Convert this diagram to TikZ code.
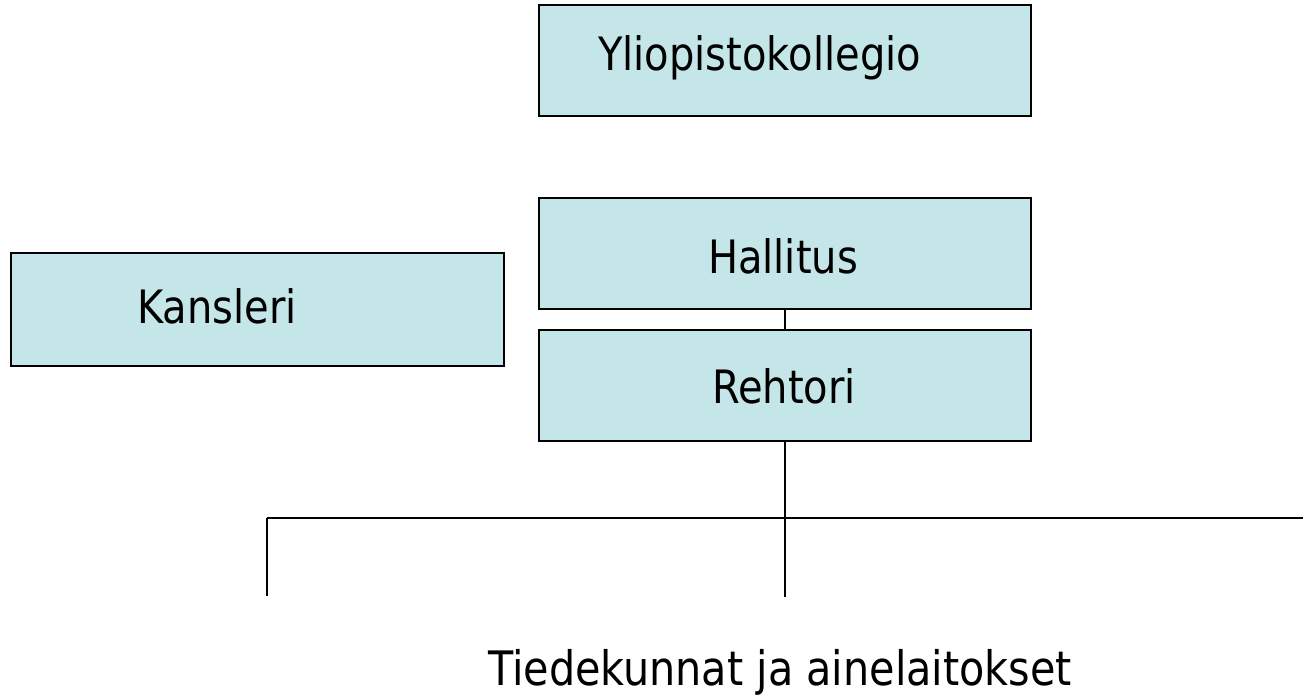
\documentclass[tikz,border=0pt]{standalone}
\usepackage{fontspec}
\setmainfont{DejaVu Sans}[FakeStretch=0.87]
\definecolor{boxfill}{RGB}{196,230,232}
\tikzset{
  orgbox/.style={draw=black, line width=2pt, fill=boxfill, rectangle,
    minimum width=492pt, minimum height=111pt, inner sep=0pt, outer sep=0pt},
  lbl/.style={inner sep=0pt, font=\fontsize{46}{55}\selectfont},
  conn/.style={draw=black, line width=1.8pt},
}
\begin{document}
\begin{tikzpicture}[x=1pt,y=-1pt]
\useasboundingbox (0,0) rectangle (1303,697);
% boxes
\node[orgbox] (yo) at (785,60) {};
\node[orgbox] (ha) at (785,253.5) {};
\node[orgbox] (re) at (785,385.5) {};
\node[orgbox, minimum width=493pt, minimum height=113pt] (ka) at (257.5,309.5) {};
% texts
\node[lbl, anchor=base west] (yot) at (598,70) {Yliopistokollegio};
\node[lbl, anchor=base] (hat) at (783,273) {Hallitus};
\node[lbl, anchor=base] (ret) at (784,403) {Rehtori};
\node[lbl, anchor=base west] (kat) at (137,323) {Kansleri};
\node[lbl, anchor=base, font=\fontsize{47.5}{56}\selectfont] (tie) at (780,685) {Tiedekunnat ja ainelaitokset};
% connector points
\coordinate (mid) at (785,518);
\coordinate (midb) at (785,597);
\coordinate (left) at (267,518);
\coordinate (leftb) at (267,596);
\coordinate (right) at (1303,518);
% connectors
\draw[conn] (ha.south) -- (re.north);
\draw[conn] (re.south) -- (midb);
\draw[conn] (left) -- (right);
\draw[conn] (left) -- (leftb);
\end{tikzpicture}
\end{document}
